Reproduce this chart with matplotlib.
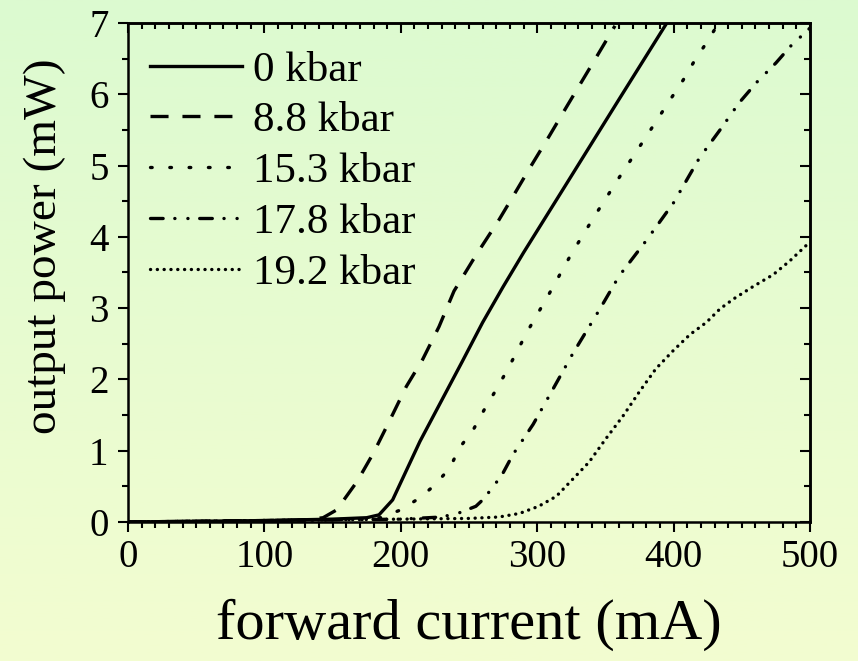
import numpy as np
import matplotlib
matplotlib.use('Agg')
import matplotlib.pyplot as plt
from matplotlib.ticker import MultipleLocator

plt.rcParams['font.family'] = ['Liberation Serif', 'DejaVu Serif']
plt.rcParams['lines.scale_dashes'] = False

# forward current (mA) vs output power (mW)
current_0 = [0, 50, 100, 150, 175, 184, 194, 214, 245, 260, 275, 290, 320, 360, 395]
power_0 = [0, 0.01, 0.02, 0.04, 0.06, 0.10, 0.31, 1.13, 2.25, 2.80, 3.30, 3.78, 4.70, 5.93, 7.0]

current_88 = [0, 50, 100, 130, 143, 153, 168, 180, 192, 204, 216, 228, 239,
              255, 272, 282, 295, 309, 322, 343, 357]
power_88 = [0, 0.01, 0.02, 0.03, 0.06, 0.17, 0.57, 0.97, 1.43, 1.90, 2.28, 2.74, 3.24,
            3.74, 4.24, 4.56, 4.98, 5.42, 5.84, 6.51, 6.96]

current_153 = [0, 100, 150, 185, 200, 214, 225, 236, 243, 253, 261, 270, 278, 293,
               309, 325, 342, 360, 379, 397, 407, 415, 425, 433]
power_153 = [0, 0.02, 0.03, 0.06, 0.17, 0.34, 0.52, 0.76, 1.04, 1.29, 1.57, 1.86, 2.13, 2.68,
             3.21, 3.76, 4.29, 4.83, 5.38, 5.91, 6.20, 6.46, 6.75, 7.0]

current_178 = [0, 100, 200, 230, 243, 255, 260, 268, 275, 282, 297, 312, 326, 346,
               360, 380, 400, 419, 434, 448, 461, 475, 486, 500]
power_178 = [0, 0.02, 0.04, 0.07, 0.13, 0.22, 0.31, 0.50, 0.69, 0.94, 1.37, 1.88, 2.36, 2.99,
             3.45, 3.95, 4.48, 5.11, 5.50, 5.88, 6.17, 6.44, 6.68, 6.93]

current_192 = [0, 100, 200, 250, 272, 287, 301, 314, 326, 338, 350, 363, 375, 387,
               400, 412, 424, 434, 444, 458, 473, 485, 500]
power_192 = [0, 0.02, 0.04, 0.05, 0.07, 0.12, 0.22, 0.36, 0.60, 0.84, 1.16, 1.49, 1.83, 2.15,
             2.41, 2.63, 2.80, 2.99, 3.13, 3.30, 3.47, 3.66, 3.93]

labels = ['0 kbar', '8.8 kbar', '15.3 kbar', '17.8 kbar', '19.2 kbar']

fig = plt.figure(figsize=(8.58, 6.61), dpi=100)

# green -> yellow background gradient
bg = fig.add_axes([0, 0, 1, 1], zorder=-1)
top = np.array([220, 250, 208]) / 255
bot = np.array([243, 253, 208]) / 255
t = np.linspace(0, 1, 256)[:, None]
grad = (top[None, :] * (1 - t) + bot[None, :] * t)[:, None, :]
bg.imshow(grad, aspect='auto', extent=[0, 1, 0, 1])
bg.axis('off')

ax = fig.add_axes([0.1492, 0.2103, 0.7949, 0.7549])
ax.set_facecolor('none')

lw = 2.4
ax.plot(current_0, power_0, color='black', lw=lw, ls='-', label=labels[0])
ax.plot(current_88, power_88, color='black', lw=lw, ls=(0, (13, 10)),
        dash_capstyle='butt', label=labels[1])
ax.plot(current_153, power_153, color='black', lw=lw, ls=(0, (1.2, 12.7)),
        dash_capstyle='round', label=labels[2])
ax.plot(current_178, power_178, color='black', lw=lw, ls=(0, (9.1, 8.4, 0.1, 9.3, 0.1, 8.4)),
        dash_capstyle='round', label=labels[3])
ax.plot(current_192, power_192, color='black', lw=lw, ls=(0, (0.1, 4.8)),
        dash_capstyle='round', label=labels[4])

ax.set_xlim(0, 500)
ax.set_ylim(0, 7)
ax.xaxis.set_major_locator(MultipleLocator(100))
ax.xaxis.set_minor_locator(MultipleLocator(10))
ax.yaxis.set_major_locator(MultipleLocator(1))
ax.yaxis.set_minor_locator(MultipleLocator(0.5))

for s in ax.spines.values():
    s.set_linewidth(1.8)
ax.tick_params(which='major', direction='out', length=7, width=1.5, labelsize=28, pad=5)
ax.tick_params(which='minor', direction='out', length=4, width=1.5)
ax.tick_params(axis='y', which='major', pad=7)

# top/right ticks point inwards
secx = ax.secondary_xaxis('top')
secx.xaxis.set_major_locator(MultipleLocator(100))
secx.xaxis.set_minor_locator(MultipleLocator(10))
secx.tick_params(which='major', direction='in', length=7, width=1.5, labeltop=False)
secx.tick_params(which='minor', direction='in', length=4, width=1.5)
secy = ax.secondary_yaxis('right')
secy.yaxis.set_major_locator(MultipleLocator(1))
secy.yaxis.set_minor_locator(MultipleLocator(0.5))
secy.tick_params(which='major', direction='in', length=7, width=1.5, labelright=False)
secy.tick_params(which='minor', direction='in', length=4, width=1.5)
for sa in (secx, secy):
    for s in sa.spines.values():
        s.set_linewidth(1.8)

ax.set_xlabel('forward current (mA)', fontsize=42, va='center')
ax.xaxis.set_label_coords(0.5, -0.206)
ax.set_ylabel('output power (mW)', fontsize=34, va='center')
ax.yaxis.set_label_coords(-0.122, 0.553)

ax.legend(loc='upper left', bbox_to_anchor=(0.032, 0.945), frameon=False,
          fontsize=31, handlelength=2.15, handletextpad=0.25, labelspacing=0.27,
          borderpad=0, borderaxespad=0)

fig.savefig('out.png', dpi=100)
